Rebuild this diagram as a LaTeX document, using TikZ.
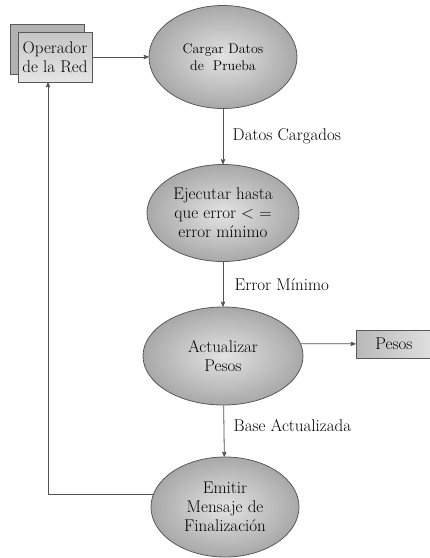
\documentclass[tikz,border=0pt]{standalone}
\usepackage{tikz}
\usetikzlibrary{shapes}
\usetikzlibrary{arrows}
\usetikzlibrary{shadows}
\tikzset{
	main node/.style={ellipse,draw=gray!70!black,inner color=gray!22,outer color=gray!68,
		font=\fontsize{17}{19}\selectfont,align=center,inner sep=1pt},
	box node/.style={rectangle,draw=gray!70!black,font=\fontsize{17}{19}\selectfont,align=center,inner sep=1pt},
	label node/.style={font=\fontsize{17}{19}\selectfont,text=black}
}

\begin{document}
\begin{tikzpicture}[->,>=stealth',x=1pt,y=-1pt,line width=0.8pt,draw=gray!65!black]
	    \useasboundingbox (0,0) rectangle (430,558);

	    \node[box node,top color=gray!45,bottom color=gray!20,
	      copy shadow={shadow xshift=-8pt,shadow yshift=8pt,fill=gray!60,draw=gray!70!black},
	      minimum width=74pt,minimum height=50pt] (op) at (55,57) {Operador\\de la Red};

	    \node[main node,minimum width=148pt,minimum height=103pt,
	      font=\fontsize{14}{17}\selectfont] (1) at (223,57) {Cargar Datos\\de~~Prueba};
	    \node[main node,minimum width=152pt,minimum height=97pt] (2) at (223,213) {Ejecutar hasta\\que error < =\\error mínimo};
	    \node[main node,minimum width=160pt,minimum height=98pt] (3) at (223,356) {Actualizar\\Pesos};
	    \node[main node,minimum width=148pt,minimum height=100pt] (4) at (225,507) {Emitir\\Mensaje de\\Finalización};

	    \node[box node,left color=gray!55,right color=gray!25,minimum width=76pt,minimum height=28pt] (pesos) at (394,344) {Pesos};

	    \path[every node/.style={label node}]
	      (op) edge (1)
	      (1) edge node[right=6pt] {Datos Cargados} (2)
	      (2) edge node[right=8pt] {Error Mínimo} (3)
	      (3) edge node[right=6pt,pos=0.4] {Base Actualizada} (4)
	      (3.9) edge (pesos);

	    \draw (4.170) -| ([xshift=-7pt]op.south);
	  \end{tikzpicture}
\end{document}
